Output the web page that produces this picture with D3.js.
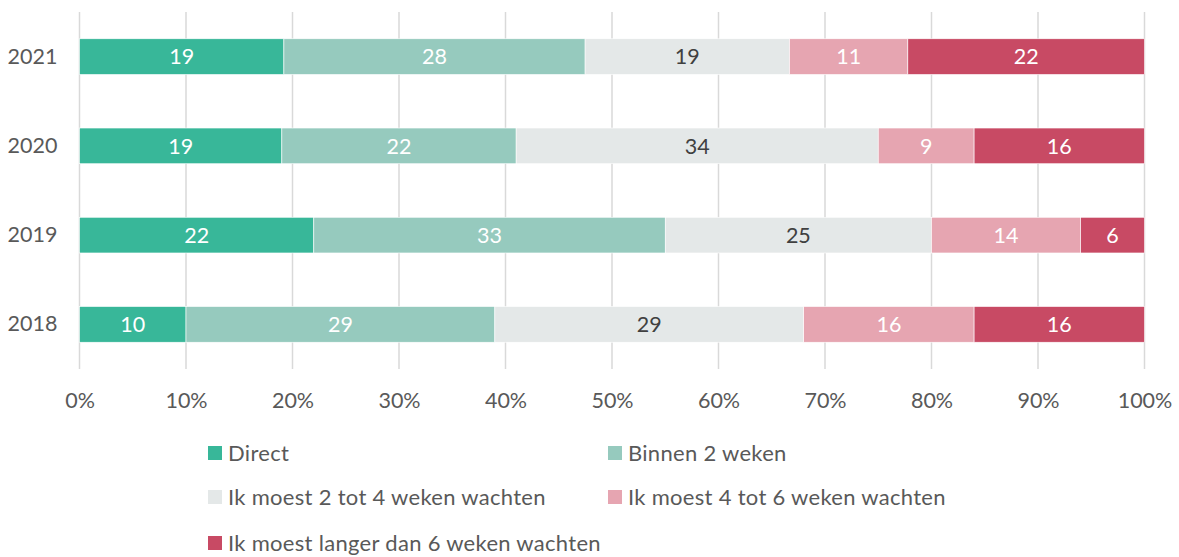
<!DOCTYPE html>
<html>
<head>
<meta charset="utf-8">
<script src="https://cdn.jsdelivr.net/npm/d3@7.9.0/dist/d3.min.js"></script>
<style>
  body { margin: 0; background: #fff; }
  svg { font-family: Lato, "Open Sans", sans-serif; }
</style>
</head>
<body>
<svg id="chart" width="1179" height="557"></svg>
<script>
// data
const years = ['2021', '2020', '2019', '2018'];
const series = ['Direct', 'Binnen 2 weken', 'Ik moest 2 tot 4 weken wachten',
  'Ik moest 4 tot 6 weken wachten', 'Ik moest langer dan 6 weken wachten'];
const direct = [19, 19, 22, 10];
const binnen2 = [28, 22, 33, 29];
const wacht2tot4 = [19, 34, 25, 29];
const wacht4tot6 = [11, 9, 14, 16];
const langer6 = [22, 16, 6, 16];
const xTicks = [0, 0.1, 0.2, 0.3, 0.4, 0.5, 0.6, 0.7, 0.8, 0.9, 1];

const colors = ['#38b799', '#96cabe', '#e4e8e8', '#e6a5b1', '#c84a64'];
const labelColors = ['#fff', '#fff', '#404040', '#fff', '#fff'];
const fontSize = 21.5;

// build rows (shares per year, normalised to 100%)
let rows = years.map((year, i) => {
  let row = { year: year };
  row[series[0]] = direct[i];
  row[series[1]] = binnen2[i];
  row[series[2]] = wacht2tot4[i];
  row[series[3]] = wacht4tot6[i];
  row[series[4]] = langer6[i];
  return row;
});

let stacked = d3.stack().keys(series).offset(d3.stackOffsetExpand)(rows);

const svg = d3.select('#chart');
const plotLeft = 79.5, plotRight = 1144.5, plotTop = 12, plotBottom = 369;

let x = d3.scaleLinear().domain([0, 1]).range([plotLeft, plotRight]);
let y = d3.scaleBand().domain(years).range([plotTop, plotBottom])
  .paddingInner(0.6).paddingOuter(0.3);

// gridlines
svg.append('g')
  .selectAll('line')
  .data(xTicks)
  .join('line')
  .attr('x1', d => x(d)).attr('x2', d => x(d))
  .attr('y1', plotTop).attr('y2', plotBottom)
  .attr('stroke', '#d9d9d9')
  .attr('stroke-width', 1.5);

// x axis labels
let xAxis = d3.axisBottom(x).tickValues(xTicks).tickFormat(d3.format('.0%')).tickSize(0);
svg.append('g')
  .attr('transform', `translate(0,${plotBottom + 21})`)
  .call(xAxis)
  .call(g => g.select('.domain').remove())
  .call(g => g.selectAll('text')
    .attr('fill', '#595959')
    .attr('font-size', fontSize)
    .attr('font-family', 'Lato, "Open Sans", sans-serif'));

// y axis labels
let yAxis = d3.axisLeft(y).tickSize(0).tickPadding(22);
svg.append('g')
  .attr('transform', `translate(${plotLeft},0)`)
  .call(yAxis)
  .call(g => g.select('.domain').remove())
  .call(g => g.selectAll('text')
    .attr('fill', '#595959')
    .attr('font-size', fontSize)
    .attr('font-family', 'Lato, "Open Sans", sans-serif'));

// bars
stacked.forEach((layer, idx) => {
  let g = svg.append('g');
  g.selectAll('rect')
    .data(layer)
    .join('rect')
    .attr('x', d => x(d[0]))
    .attr('y', d => y(d.data.year))
    .attr('width', d => x(d[1]) - x(d[0]))
    .attr('height', y.bandwidth())
    .attr('fill', colors[idx])
    .attr('stroke', '#fff')
    .attr('stroke-width', 0.6);
  g.selectAll('text')
    .data(layer)
    .join('text')
    .attr('x', d => (x(d[0]) + x(d[1])) / 2)
    .attr('y', d => y(d.data.year) + y.bandwidth() / 2)
    .attr('dy', '0.36em')
    .attr('text-anchor', 'middle')
    .attr('font-size', fontSize)
    .attr('fill', labelColors[idx])
    .text(d => d.data[layer.key]);
});

// legend
const legendPos = [[208, 453], [608, 453], [208, 497], [608, 497], [208, 543]];
let legend = svg.append('g');
series.forEach((name, idx) => {
  let [lx, ly] = legendPos[idx];
  legend.append('rect')
    .attr('x', lx).attr('y', ly - 7)
    .attr('width', 14).attr('height', 14)
    .attr('fill', colors[idx]);
  legend.append('text')
    .attr('x', lx + 20).attr('y', ly)
    .attr('dy', '0.36em')
    .attr('font-size', 22)
    .attr('letter-spacing', 0.3)
    .attr('fill', '#595959')
    .text(name);
});
</script>
</body>
</html>
